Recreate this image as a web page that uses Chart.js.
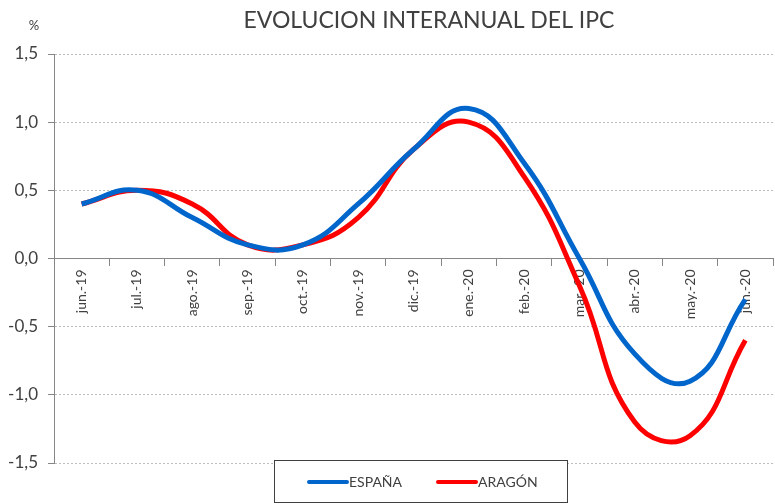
<!DOCTYPE html>
<html>
<head>
<meta charset="utf-8">
<script src="https://cdn.jsdelivr.net/npm/chart.js@4"></script>
<style>
  html, body { margin: 0; padding: 0; background: #fff; }
  #wrap { width: 775px; height: 504px; }
</style>
</head>
<body>
<div id="wrap"><canvas id="ipcChart" width="775" height="504"></canvas></div>
<script>
// Data
const months = ['jun.-19', 'jul.-19', 'ago.-19', 'sep.-19', 'oct.-19', 'nov.-19', 'dic.-19',
                'ene.-20', 'feb.-20', 'mar.-20', 'abr.-20', 'may.-20', 'jun.-20'];
const espana = [0.4, 0.5, 0.3, 0.1, 0.1, 0.4, 0.8, 1.1, 0.7, 0.0, -0.7, -0.9, -0.3];
const aragon = [0.4, 0.5, 0.4, 0.1, 0.1, 0.3, 0.8, 1.0, 0.6, -0.2, -1.2, -1.3, -0.6];
const yTicks = [-1.5, -1.0, -0.5, 0.0, 0.5, 1.0, 1.5];

const textColor = '#404040';
const axisColor = '#868686';

// Title, % label and boxed legend drawn by hand
const extras = {
    id: 'extras',
    afterDraw(chart) {
        const ctx = chart.ctx;
        ctx.save();
        ctx.fillStyle = textColor;
        ctx.textBaseline = 'middle';
        ctx.textAlign = 'center';
        ctx.font = '23px Lato';
        ctx.fillText('EVOLUCION INTERANUAL DEL IPC', 429, 21);
        ctx.font = '13px Lato';
        ctx.fillText('%', 34, 26);

        // legend box
        const boxX = 274, boxY = 460, boxW = 294, boxH = 43;
        ctx.fillStyle = '#fff';
        ctx.fillRect(boxX, boxY, boxW, boxH);
        ctx.strokeStyle = textColor;
        ctx.lineWidth = 1;
        ctx.strokeRect(boxX + 0.5, boxY + 0.5, boxW - 1, boxH - 1);

        const starts = [307, 436];
        chart.data.datasets.forEach((ds, i) => {
            const x = starts[i], y = boxY + 22;
            ctx.strokeStyle = ds.borderColor;
            ctx.lineWidth = 4;
            ctx.lineCap = 'round';
            ctx.beginPath();
            ctx.moveTo(x + 2, y);
            ctx.lineTo(x + 40, y);
            ctx.stroke();
            ctx.fillStyle = textColor;
            ctx.textAlign = 'left';
            ctx.font = '14px Lato';
            ctx.fillText(ds.label, x + 42, y);
        });
        ctx.restore();
    }
};

const ctx = document.getElementById('ipcChart').getContext('2d');
const chart = new Chart(ctx, {
    type: 'line',
    data: {
        labels: months,
        datasets: [
            { label: 'ESPAÑA', data: espana, borderColor: '#0066CC', backgroundColor: '#0066CC',
              borderWidth: 5, pointRadius: 0, tension: 0.45, fill: false },
            { label: 'ARAGÓN', data: aragon, borderColor: '#FF0000', backgroundColor: '#FF0000',
              borderWidth: 5, pointRadius: 0, tension: 0.45, fill: false }
        ]
    },
    options: {
        responsive: false,
        animation: false,
        layout: { padding: { top: 54, bottom: 41, left: 0, right: 2 } },
        plugins: {
            legend: { display: false },
            title: { display: false },
            tooltip: { enabled: false }
        },
        scales: {
            x: {
                position: { y: 0 },
                offset: true,
                grid: {
                    offset: true,
                    drawOnChartArea: false,
                    drawTicks: true,
                    tickLength: 7,
                    color: axisColor
                },
                border: { color: axisColor, width: 1 },
                ticks: {
                    color: textColor,
                    font: { family: 'Lato', size: 14 },
                    minRotation: 90,
                    maxRotation: 90,
                    padding: 4,
                    autoSkip: false
                }
            },
            y: {
                min: -1.5,
                max: 1.5,
                afterFit(scale) { scale.width = 54; },
                afterBuildTicks(scale) { scale.ticks = yTicks.map(v => ({ value: v })); },
                grid: {
                    color: '#bdbdbd',
                    lineWidth: 1,
                    tickLength: 6,
                    tickColor: axisColor,
                    tickBorderDash: [1, 0]
                },
                // in v4 border.dash styles the grid lines
                border: { color: axisColor, width: 1, dash: [2, 2] },
                ticks: {
                    color: textColor,
                    font: { family: 'Lato', size: 17 },
                    padding: 10,
                    callback: v => v.toFixed(1).replace('.', ',')
                }
            }
        }
    },
    plugins: [extras]
});
</script>
</body>
</html>
